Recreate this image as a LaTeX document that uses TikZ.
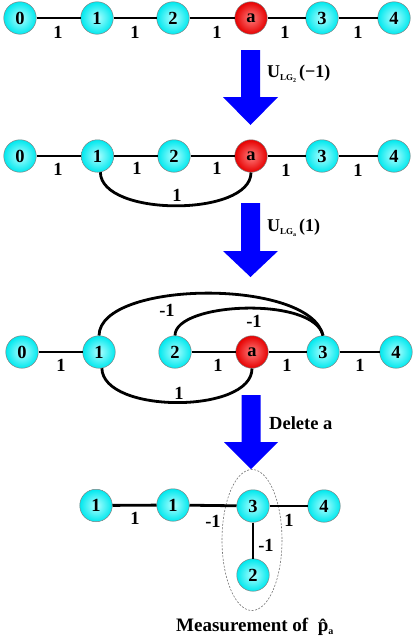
\documentclass[tikz,border=0pt]{standalone}
\usepackage{fontspec}
\setmainfont{Liberation Serif}
\definecolor{nodecyan}{RGB}{0,232,238}
\definecolor{nodecyanin}{RGB}{175,255,255}
\definecolor{nodered}{RGB}{230,0,0}
\definecolor{noderedin}{RGB}{255,125,125}
\definecolor{arrowblue}{RGB}{0,0,255}
\begin{document}
\begin{tikzpicture}[x=1pt,y=-1pt,
  vnode/.style={circle,minimum size=32.5pt,inner sep=0pt,draw=black!50,line width=0.5pt,
    shading=radial,inner color=nodecyanin,outer color=nodecyan,
    font=\fontsize{18.5}{18.5}\selectfont\bfseries},
  anode/.style={vnode,inner color=noderedin,outer color=nodered},
  edge/.style={line width=2.8pt,black},
  lbl/.style={font=\fontsize{18.5}{18.5}\selectfont\bfseries,inner sep=0pt},
  arlbl/.style={font=\fontsize{18}{18}\selectfont\bfseries,inner sep=0pt,anchor=west},
  bigarrow/.style={fill=arrowblue,draw=none},
  circ/.style={dashed,dash pattern=on 2pt off 1.5pt,draw=black!55,line width=0.6pt}
]
\useasboundingbox (0,0) rectangle (415,637);

% ---------- Row 1
\node[vnode] (r1n0) at (20,18) {0};
\node[vnode] (r1n1) at (97,18) {1};
\node[vnode] (r1n2) at (173,18) {2};
\node[anode] (r1a)  at (251,18) {a};
\node[vnode] (r1n3) at (322,18) {3};
\node[vnode] (r1n4) at (394,18) {4};
\draw[edge] (r1n0) -- (r1n1);
\draw[edge] (r1n1) -- (r1n2);
\draw[edge] (r1n2) -- (r1a);
\draw[edge] (r1a) -- (r1n3);
\draw[edge] (r1n3) -- (r1n4);
\node[lbl] (r1l1) at (58,32) {1};
\node[lbl] (r1l2) at (135,32) {1};
\node[lbl] (r1l3) at (217,32) {1};
\node[lbl] (r1l4) at (285,32) {1};
\node[lbl] (r1l5) at (358,32) {1};

% ---------- Arrow 1
\fill[bigarrow] (241,50) -- (260,50) -- (260,97) -- (278,97) -- (250.5,125) -- (223,97) -- (241,97) -- cycle;
\node[arlbl] (ar1) at (267,74) {U\raisebox{-3pt}{\fontsize{9}{9}\selectfont LG\raisebox{-1.5pt}{\fontsize{6}{6}\selectfont 2}}\,(−1)};

% ---------- Row 2
\node[vnode] (r2n0) at (20,156) {0};
\node[vnode] (r2n1) at (97.5,156) {1};
\node[vnode] (r2n2) at (174,156) {2};
\node[anode] (r2a)  at (251,156) {a};
\node[vnode] (r2n3) at (322,156) {3};
\node[vnode] (r2n4) at (394,156) {4};
\draw[edge] (r2n0) -- (r2n1);
\draw[edge] (r2n1) -- (r2n2);
\draw[edge] (r2n2) -- (r2a);
\draw[edge] (r2a) -- (r2n3);
\draw[edge] (r2n3) -- (r2n4);
\draw[edge] (r2n1.-80) .. controls (101,217) and (251,217) .. (r2a.south);
\node[lbl] (r2l1) at (58,169) {1};
\node[lbl] (r2l2) at (137,168) {1};
\node[lbl] (r2l3) at (217,168) {1};
\node[lbl] (r2l4) at (286,170) {1};
\node[lbl] (r2l5) at (358,170) {1};
\node[lbl] (r2l6) at (177,195) {1};

% ---------- Arrow 2
\fill[bigarrow] (241,203) -- (260,203) -- (260,251) -- (278,251) -- (250.5,277) -- (223,251) -- (241,251) -- cycle;
\node[arlbl] (ar2) at (267,228) {U\raisebox{-3pt}{\fontsize{9}{9}\selectfont LG\raisebox{-1.5pt}{\fontsize{6}{6}\selectfont a}}\,(1)};

% ---------- Row 3
\node[vnode] (r3n0) at (22,352) {0};
\node[vnode] (r3n1) at (99,352) {1};
\node[vnode] (r3n2) at (175,352) {2};
\node[anode] (r3a)  at (252,352) {a};
\node[vnode] (r3n3) at (323,352) {3};
\node[vnode] (r3n4) at (396,352) {4};
\draw[edge] (r3n0) -- (r3n1);
\draw[edge] (r3n2) -- (r3a);
\draw[edge] (r3a) -- (r3n3);
\draw[edge] (r3n3) -- (r3n4);
\draw[edge] (r3n1.north) .. controls (100,280) and (310,278) .. (r3n3.north);
\draw[edge] (r3n2.north) .. controls (175,302) and (314,296) .. (r3n3.north);
\draw[edge] (r3n1.-80) .. controls (103,414) and (252,414) .. (r3a.south);
\node[lbl] (r3l1) at (61,365) {1};
\node[lbl] (r3l2) at (218,365) {1};
\node[lbl] (r3l3) at (287,365) {1};
\node[lbl] (r3l4) at (360,365) {1};
\node[lbl] (r3l5) at (167,310) {-1};
\node[lbl] (r3l6) at (254,321) {-1};
\node[lbl] (r3l7) at (179,393) {1};

% ---------- Arrow 3
\fill[bigarrow] (241.5,395) -- (260.5,395) -- (260.5,442) -- (278,442) -- (251,469) -- (224,442) -- (241.5,442) -- cycle;
\node[arlbl,font=\fontsize{18.5}{18.5}\selectfont\bfseries] (ar3) at (269,423) {Delete a};

% ---------- Row 4
\draw[circ] (252,540) ellipse [x radius=30, y radius=70.5];
\node[vnode] (r4n1a) at (96,505.5) {1};
\node[vnode] (r4n1b) at (173,505) {1};
\node[vnode] (r4n3) at (253,506) {3};
\node[vnode] (r4n4) at (324,506) {4};
\node[vnode] (r4n2) at (253,575) {2};
\draw[edge] (r4n1a) -- (r4n1b);
\draw[edge] (r4n1b) -- (r4n3);
\draw[edge] (r4n3) -- (r4n4);
\draw[edge] (r4n3) -- (r4n2);
\node[lbl] (r4l1) at (135,518) {1};
\node[lbl] (r4l2) at (213,521) {-1};
\node[lbl] (r4l3) at (289,520) {1};
\node[lbl] (r4l4) at (266,545.5) {-1};

\node[arlbl,font=\fontsize{19}{19}\selectfont\bfseries] (cap) at (176,627) {Measurement of\ \ \^{p}\raisebox{-3pt}{\fontsize{10}{10}\selectfont a}};
\end{tikzpicture}
\end{document}
